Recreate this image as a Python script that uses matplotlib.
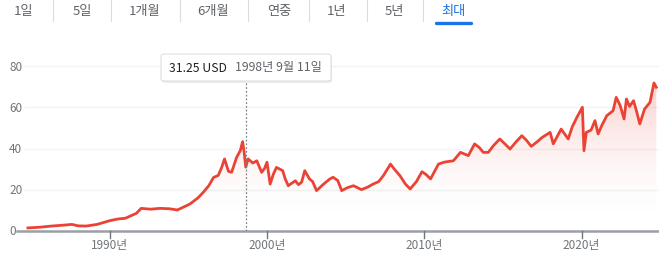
import numpy as np
import matplotlib
matplotlib.use("Agg")
import matplotlib.pyplot as plt
from matplotlib.patches import FancyBboxPatch, Polygon

plt.rcParams['font.family'] = ['Noto Sans CJK KR', 'DejaVu Sans']

# price history (decimal year, USD)
years = [1984.8, 1985.5, 1986.3, 1987.0, 1987.6, 1988.0, 1988.5, 1989.2, 1990.0, 1990.5,
         1991.0, 1991.7, 1992.0, 1992.6, 1993.2, 1993.8, 1994.3, 1994.8, 1995.1, 1995.6,
         1995.95, 1996.3, 1996.6, 1996.9, 1997.1, 1997.3, 1997.55, 1997.75, 1998.07, 1998.3,
         1998.45, 1998.55, 1998.65, 1998.8, 1999.1, 1999.35, 1999.66, 1999.85, 2000.0, 2000.2,
         2000.4, 2000.6, 2001.0, 2001.15, 2001.35, 2001.8, 2002.0, 2002.2, 2002.4, 2002.7,
         2002.9, 2003.15, 2003.6, 2004.0, 2004.2, 2004.5, 2004.75, 2005.1, 2005.5, 2006.0,
         2006.4, 2006.75, 2007.1, 2007.4, 2007.85, 2008.1, 2008.45, 2008.8, 2009.1, 2009.5,
         2009.85, 2010.1, 2010.4, 2010.9, 2011.3, 2011.85, 2012.3, 2012.8, 2013.2, 2013.5,
         2013.75, 2014.07, 2014.4, 2014.8, 2015.1, 2015.45, 2015.8, 2016.2, 2016.5, 2016.8,
         2017.2, 2017.5, 2018.0, 2018.2, 2018.7, 2019.15, 2019.4, 2019.7, 2020.05, 2020.15,
         2020.3, 2020.6, 2020.85, 2021.05, 2021.3, 2021.6, 2022.0, 2022.2, 2022.45, 2022.7,
         2022.85, 2023.05, 2023.3, 2023.5, 2023.7, 2024.0, 2024.35, 2024.6, 2024.75]
prices = [1.5, 1.8, 2.4, 2.8, 3.2, 2.5, 2.4, 3.2, 5.0, 5.8,
          6.2, 8.6, 11.0, 10.6, 11.0, 10.8, 10.2, 12.0, 13.1, 16.0,
          18.8, 22.0, 26.0, 27.0, 30.5, 35.0, 29.0, 28.5, 35.8, 39.0,
          43.4, 38.0, 31.0, 35.0, 33.0, 34.1, 28.5, 30.5, 33.4, 22.8,
          27.5, 30.9, 29.3, 25.5, 22.0, 24.4, 22.5, 23.7, 29.3, 25.3,
          24.0, 19.6, 22.8, 25.3, 26.1, 24.5, 19.6, 21.0, 22.0, 20.1,
          21.3, 22.8, 24.0, 26.9, 32.5, 30.0, 26.9, 22.8, 20.4, 24.0,
          28.8, 27.5, 25.3, 32.5, 33.5, 34.1, 38.2, 36.6, 42.3, 40.5,
          38.2, 38.2, 41.5, 44.7, 42.5, 39.8, 43.0, 46.3, 44.0, 41.1,
          43.5, 45.5, 47.9, 42.3, 49.5, 44.7, 50.5, 55.2, 60.1, 39.0,
          47.9, 49.0, 53.6, 47.1, 51.5, 56.0, 58.4, 64.9, 61.0, 54.4,
          64.1, 60.5, 63.3, 58.0, 52.0, 59.2, 62.5, 71.9, 69.8]

y_ticks = [0, 20, 40, 60, 80]
x_ticks = [1990, 2000, 2010, 2020]
x_labels = ["1990년", "2000년", "2010년", "2020년"]
tabs = ["1일", "5일", "1개월", "6개월", "연중", "1년", "5년", "최대"]

W, H = 659, 255
fig = plt.figure(figsize=(W / 100, H / 100), dpi=100)

# axes placed in pixel terms
left_px, bottom_px, top_px = 17, 232, 40
ax = fig.add_axes([left_px / W, (H - bottom_px) / H, (W - left_px) / W, (bottom_px - top_px) / H])
px_per_year = 15.73
px_per_usd = 2.059
x0 = 1990 + (left_px - 109.7) / px_per_year
x1 = 1990 + (W - 109.7) / px_per_year
ymax = (bottom_px - top_px) / px_per_usd
ax.set_xlim(x0, x1)
ax.set_ylim(0, ymax)
ax.axis("off")

red = "#ea4335"

# gradient fill under the line
grad = np.linspace(0, 1, 256)[:, None]
alpha = 0.28 * (grad * ymax / 75.0).clip(0, 1) ** 2
rgba = np.zeros((256, 2, 4))
rgba[..., 0], rgba[..., 1], rgba[..., 2] = 0.918, 0.263, 0.208
rgba[..., 3] = alpha
img = ax.imshow(rgba, extent=[x0, x1, 0, ymax], origin="lower", aspect="auto", zorder=1)
poly = Polygon(list(zip(years, prices)) + [(years[-1], 0), (years[0], 0)],
               closed=True, transform=ax.transData, facecolor="none", edgecolor="none")
ax.add_patch(poly)
img.set_clip_path(poly)

# grid lines and y labels
gx0 = x0 + (25 - left_px) / px_per_year
for v in y_ticks:
    if v > 0:
        ax.plot([gx0, x1], [v, v], color="#f1f3f4", lw=1, zorder=0)
    fig.text(9 / W, (H - bottom_px + v * px_per_usd) / H, str(v), fontsize=8.5,
             color="#70757a", va="center", ha="left")

ax.plot(years, prices, color=red, lw=2.0, zorder=3, solid_joinstyle="round")

# bottom axis
ax.plot([x0, x1], [0, 0], color="#9aa0a6", lw=1.8, zorder=4, clip_on=False)
for xt, lab in zip(x_ticks, x_labels):
    ax.plot([xt, xt], [0, -7 / px_per_usd], color="#70757a", lw=1, clip_on=False, zorder=4)
    ax.text(xt, -13.5 / px_per_usd, lab, fontsize=8.5, color="#70757a", ha="center", va="center")

# hover marker
hx = 1990 + (246.3 - 109.7) / px_per_year
ax.plot([hx, hx], [0, (bottom_px - 82) / px_per_usd], color="#80868b", lw=0.9,
        ls=(0, (1.5, 1.5)), zorder=5)

# tooltip box
tip = FancyBboxPatch((161 / W, (H - 82) / H), 170 / W, 27 / H, boxstyle="round,pad=0,rounding_size=0.008",
                     transform=fig.transFigure, facecolor="white", edgecolor="#e0e0e0", lw=0.8, zorder=10)
shadow = FancyBboxPatch((162 / W, (H - 84) / H), 170 / W, 27 / H, boxstyle="round,pad=0,rounding_size=0.008",
                        transform=fig.transFigure, facecolor="#00000014", edgecolor="none", zorder=9)
fig.patches.extend([shadow, tip])
fig.text(169 / W, (H - 68) / H, "31.25 USD", fontsize=8.8, color="#202124", va="center", ha="left", zorder=11)
fig.text(235 / W, (H - 68) / H, "1998년 9월 11일", fontsize=8.8, color="#5f6368", va="center", ha="left", zorder=11)

# range tabs at the top
tab_centers = [24, 82, 145, 213, 279, 337, 394, 453]
separators = [53, 111, 180, 248, 309, 367, 423]
for c, t in zip(tab_centers, tabs):
    col = "#1a73e8" if t == "최대" else "#5f6368"
    fig.text(c / W, (H - 12) / H, t, fontsize=9.5, color=col, ha="center", va="center")
for s in separators:
    fig.add_artist(plt.Line2D([s / W, s / W], [(H - 0) / H, (H - 21.5) / H], color="#dadce0", lw=0.8))
fig.add_artist(plt.Line2D([436 / W, 471 / W], [(H - 23.5) / H] * 2, color="#1a73e8", lw=2.4,
                          solid_capstyle="round"))

fig.savefig("out.png", dpi=100)
